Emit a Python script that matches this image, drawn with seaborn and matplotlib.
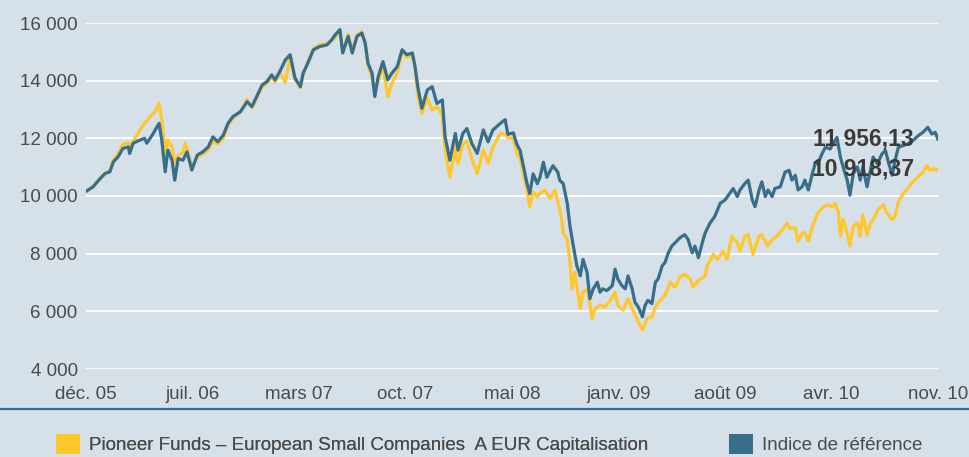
import pandas as pd
import seaborn as sns
import matplotlib.pyplot as plt
from matplotlib.patches import Patch
from matplotlib.lines import Line2D

# Data (x = trading session since start, y = value base 10 000)

tick_labels = ['déc. 05', 'juil. 06', 'mars 07', 'oct. 07', 'mai 08',
               'janv. 09', 'août 09', 'avr. 10', 'nov. 10']
tick_sessions = [0, 156, 312, 468, 624, 780, 936, 1092, 1248]

index_x = [0, 10, 21, 28, 35, 40, 47, 54, 62, 64, 69, 79, 86, 89, 97, 104, 107, 111,
           116, 120, 126, 130, 135, 142, 148, 155, 163, 171, 179, 186, 193, 201, 208,
           215, 226, 236, 243, 251, 258, 265, 272, 277, 284, 292, 299, 306, 314, 318,
           325, 333, 343, 353, 360, 365, 372, 376, 384, 390, 397, 404, 409, 413, 419,
           423, 428, 435, 442, 448, 456, 463, 470, 478, 482, 486, 492, 500, 507, 514,
           522, 526, 533, 541, 545, 552, 558, 565, 573, 582, 589, 596, 607, 614, 618,
           626, 631, 636, 640, 646, 650, 655, 661, 665, 670, 675, 680, 684, 691, 694,
           699, 705, 709, 713, 719, 724, 728, 734, 738, 743, 749, 753, 757, 763, 771,
           775, 779, 785, 790, 794, 800, 804, 809, 815, 819, 823, 829, 834, 838, 844,
           848, 853, 858, 863, 870, 877, 882, 888, 892, 897, 904, 907, 914, 921, 925,
           929, 936, 943, 948, 954, 958, 965, 970, 976, 980, 986, 990, 995, 999, 1005,
           1009, 1017, 1024, 1030, 1034, 1039, 1043, 1049, 1053, 1058, 1064, 1068,
           1072, 1078, 1083, 1090, 1094, 1100, 1105, 1109, 1115, 1119, 1124, 1130,
           1134, 1138, 1144, 1149, 1153, 1159, 1166, 1171, 1176, 1181, 1185, 1190,
           1197, 1204, 1211, 1219, 1226, 1233, 1239, 1244, 1248]
index_y = [10160, 10310, 10610, 10780, 10840, 11180, 11360, 11650, 11700, 11475, 11830,
           11940, 12000, 11830, 12110, 12400, 12520, 11940, 10840, 11590, 11240, 10550,
           11300, 11240, 11530, 10900, 11420, 11530, 11700, 12050, 11880, 12110, 12520,
           12750, 12920, 13270, 13100, 13500, 13850, 13970, 14200, 14030, 14320, 14720,
           14900, 14100, 13790, 14260, 14610, 15070, 15190, 15240, 15420, 15590, 15770,
           14960, 15540, 14960, 15540, 15650, 15300, 14610, 14260, 13450, 14140, 14660,
           14030, 14260, 14490, 15070, 14900, 14960, 14490, 13790, 13040, 13680, 13790,
           13210, 13330, 12050, 11240, 12170, 11590, 12170, 12340, 11830, 11480, 12290,
           11880, 12290, 12520, 12650, 12140, 12190, 11800, 11570, 11110, 10430, 10080,
           10770, 10430, 10650, 11170, 10650, 10880, 11050, 10830, 10540, 10430, 9740,
           8940, 8380, 7580, 7230, 7800, 7350, 6440, 6780, 7010, 6660, 6780, 6720, 6890,
           7460, 7120, 6890, 6780, 7230, 6780, 6320, 6150, 5810, 6210, 6380, 6270, 7010,
           7120, 7580, 7690, 8030, 8260, 8380, 8550, 8660, 8490, 8030, 8260, 7860, 8490,
           8720, 9060, 9290, 9520, 9750, 9860, 10090, 10260, 9980, 10210, 10430, 10550,
           9860, 9630, 10210, 10490, 9980, 10210, 9980, 10260, 10320, 10830, 10890,
           10550, 10720, 10210, 10320, 10550, 10210, 10780, 11120, 11120, 11460, 11690,
           11630, 11810, 12030, 11350, 11010, 10550, 10030, 10780, 11010, 10550, 11010,
           10320, 10890, 11350, 11120, 11460, 11580, 11120, 10720, 11230, 11690, 11750,
           11810, 11920, 12090, 12210, 12380, 12150, 12210, 11956]

fund_x = [0, 10, 21, 28, 35, 40, 47, 54, 62, 64, 69, 76, 79, 86, 94, 101, 107, 111,
          116, 120, 126, 130, 135, 142, 145, 148, 155, 163, 171, 179, 186, 193, 201,
          208, 215, 226, 236, 243, 251, 258, 265, 272, 277, 284, 292, 299, 306, 314,
          318, 325, 333, 343, 353, 360, 365, 372, 376, 384, 390, 397, 404, 409, 413,
          419, 423, 428, 435, 442, 448, 456, 463, 470, 478, 482, 486, 492, 500, 507,
          514, 522, 526, 533, 541, 545, 552, 558, 565, 573, 582, 589, 596, 607, 614,
          618, 626, 631, 636, 640, 646, 650, 655, 661, 665, 672, 680, 687, 693, 697,
          699, 705, 709, 712, 716, 724, 728, 735, 741, 746, 753, 760, 768, 775, 779,
          787, 794, 801, 809, 815, 822, 829, 834, 841, 848, 856, 863, 870, 877, 885,
          889, 897, 900, 907, 910, 919, 925, 933, 939, 946, 954, 958, 965, 970, 977,
          986, 990, 998, 1005, 1012, 1020, 1027, 1031, 1039, 1043, 1049, 1053, 1058,
          1065, 1072, 1080, 1086, 1093, 1097, 1102, 1105, 1109, 1115, 1119, 1124,
          1130, 1134, 1138, 1144, 1149, 1153, 1160, 1168, 1173, 1181, 1185, 1190,
          1197, 1204, 1211, 1219, 1226, 1232, 1236, 1241, 1247, 1248]
fund_y = [10150, 10330, 10630, 10800, 10880, 11250, 11450, 11800, 11850, 11700, 11880,
          12170, 12290, 12520, 12750, 12920, 13210, 12640, 11500, 11940, 11700, 11140,
          11400, 11500, 11830, 11650, 11000, 11350, 11450, 11600, 11900, 11800, 12000,
          12450, 12700, 12900, 13350, 13050, 13450, 13800, 13900, 14150, 13950, 14300,
          13950, 14850, 14050, 13750, 14200, 14650, 15100, 15250, 15300, 15400, 15500,
          15700, 15000, 15600, 15050, 15600, 15700, 15300, 14550, 14100, 13600, 14000,
          14500, 13450, 13900, 14300, 15000, 14800, 14900, 14400, 13500, 12870, 13400,
          12980, 13100, 12800, 11600, 10660, 11700, 11130, 11800, 11900, 11300, 10780,
          11600, 11130, 11700, 12170, 12140, 12020, 12000, 11510, 11300, 10880, 10200,
          9630, 10140, 9970, 10100, 10200, 9910, 10200, 9630, 9170, 8720, 8490, 7690,
          6780, 7350, 6100, 6660, 6780, 5750, 6100, 6210, 6150, 6380, 6660, 6210, 6040,
          6440, 6040, 5640, 5350, 5750, 5810, 6150, 6380, 6550, 7010, 6840, 7180, 7290,
          7120, 6840, 7070, 7120, 7230, 7580, 7980, 7800, 8090, 7800, 8610, 8380, 8090,
          8610, 8660, 7980, 8610, 8660, 8260, 8490, 8610, 8830, 9060, 8890, 8890, 8430,
          8720, 8720, 8430, 9010, 9410, 9630, 9690, 9630, 9750, 9460, 8610, 9180, 8720,
          8260, 8950, 9060, 8610, 9350, 8660, 9060, 9180, 9520, 9690, 9410, 9180, 9290,
          9800, 10090, 10260, 10490, 10660, 10830, 11060, 10890, 10950, 10890, 10918]

fund_name = 'Pioneer Funds – European Small Companies  A EUR Capitalisation'
index_name = 'Indice de référence'
last_fund = '10 918,37'
last_index = '11 956,13'

df = pd.concat([
    pd.DataFrame({'session': fund_x, 'value': fund_y, 'serie': fund_name}),
    pd.DataFrame({'session': index_x, 'value': index_y, 'serie': index_name}),
])

bg = '#d6e0e8'
yellow = '#ffc72c'
blue = '#376e8a'
text_col = '#4a4a4a'

sns.set_style('white')
plt.rcParams['font.family'] = ['Liberation Sans Narrow', 'Liberation Sans', 'DejaVu Sans']

fig = plt.figure(figsize=(9.69, 4.57), dpi=100, facecolor=bg)
ax = fig.add_axes([86 / 969, 1 - 369 / 457, 852 / 969, 346 / 457])
ax.set_facecolor(bg)

sns.lineplot(data=df, x='session', y='value', hue='serie',
             palette={fund_name: yellow, index_name: blue},
             estimator=None, linewidth=2.3, legend=False, ax=ax)

ax.set_xlim(0, 1248)
ax.set_ylim(4000, 16000)
ax.set_yticks(range(4000, 16001, 2000))
ax.set_yticklabels([f'{v:,}'.replace(',', ' ') for v in range(4000, 16001, 2000)])
ax.set_xticks(tick_sessions)
ax.set_xticklabels(tick_labels)
ax.yaxis.grid(True, color='white', linewidth=1.3)
ax.xaxis.grid(False)
ax.set_axisbelow(True)
for s in ax.spines.values():
    s.set_visible(False)
ax.tick_params(axis='y', length=0, pad=6, labelsize=13.5, labelcolor=text_col)
ax.tick_params(axis='x', length=0, pad=12, labelsize=13.5, labelcolor=text_col)
ax.set_xlabel('')
ax.set_ylabel('')

# final values
ax.text(1213, 11990, last_index, ha='right', va='center', fontsize=16.5,
        fontweight='bold', color='#3a3a3a')
ax.text(1213, 10950, last_fund, ha='right', va='center', fontsize=16.5,
        fontweight='bold', color='#3a3a3a')

# separator line under x axis
fig.add_artist(Line2D([0, 1], [1 - 409 / 457, 1 - 409 / 457], color='#2e6ea0',
                      linewidth=1.6))

# legend
leg_kw = dict(loc='center left', frameon=False, fontsize=13.5, handlelength=1.28,
              handleheight=1.28, handletextpad=0.5, borderpad=0, borderaxespad=0,
              labelcolor=text_col)
leg1 = fig.legend(handles=[Patch(facecolor=yellow, edgecolor='none', label=fund_name)],
                  bbox_to_anchor=(56 / 969, 1 - 444 / 457), **leg_kw)
fig.legend(handles=[Patch(facecolor=blue, edgecolor='none', label=index_name)],
           bbox_to_anchor=(729 / 969, 1 - 444 / 457), **leg_kw)
fig.add_artist(leg1)

fig.savefig('out.png', dpi=100, facecolor=bg)
